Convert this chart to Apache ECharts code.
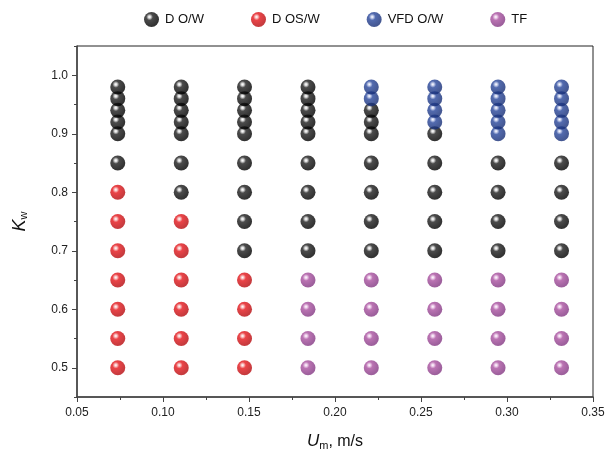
<!DOCTYPE html>
<html><head><meta charset="utf-8">
<script src="https://cdn.jsdelivr.net/npm/echarts@6/dist/echarts.min.js"></script>
<style>html,body{margin:0;padding:0;background:#fff}#c{width:608px;height:458px}</style>
</head><body><div id="c"></div>
<script>
// flow velocity (m/s) of each column
const Um = [0.0737, 0.1106, 0.1474, 0.1843, 0.2211, 0.2580, 0.2948, 0.3317];
// water cut levels
const Kw = [0.50, 0.55, 0.60, 0.65, 0.70, 0.75, 0.80, 0.85, 0.90, 0.92, 0.94, 0.96, 0.98];
// flow regime at each (Um column, Kw level): D = D O/W, R = D OS/W, V = VFD O/W, T = TF
const regime = [
  'RRRRRRRDDDDDD',
  'RRRRRRDDDDDDD',
  'RRRRDDDDDDDDD',
  'TTTTDDDDDDDDD',
  'TTTTDDDDDDDVV',
  'TTTTDDDDDVVVV',
  'TTTTDDDDVVVVV',
  'TTTTDDDDVVVVV'
];
const seriesNames = ['D O/W', 'D OS/W', 'VFD O/W', 'TF'];
const seriesCodes = ['D', 'R', 'V', 'T'];
const yTicks = [0.5, 0.6, 0.7, 0.8, 0.9, 1.0];
const yMinor = [0.45, 0.55, 0.65, 0.75, 0.85, 0.95, 1.05];

const palette = {
  D: ['#ffffff', '#d6d6d6', '#1e1e1e', '#000000'],
  R: ['#ffffff', '#f8c0c0', '#e5151a', '#b80a0e'],
  V: ['#ffffff', '#c0c9ea', '#27459a', '#172f78'],
  T: ['#ffffff', '#ecc8e8', '#a9509f', '#853884']
};
function sphere(code) {
  const c = palette[code];
  return {type: 'radial', x: 0.37, y: 0.33, r: 0.62,
    colorStops: [{offset: 0, color: c[0]}, {offset: 0.13, color: c[1]}, {offset: 0.36, color: c[2]}, {offset: 1, color: c[3]}]};
}
function pointsFor(code) {
  const pts = [];
  for (let i = 0; i < Um.length; i++)
    for (let j = 0; j < Kw.length; j++)
      if (regime[i][j] === code) pts.push([Um[i], Kw[j]]);
  return pts;
}

const chart = echarts.init(document.getElementById('c'), null, {renderer: 'canvas'});
const font = 'Liberation Sans, Arial, sans-serif';
chart.setOption({
  animation: false,
  textStyle: {fontFamily: font},
  legend: {
    top: 12, left: 144, padding: 0, itemWidth: 15, itemHeight: 15, itemGap: 47,
    icon: 'circle',
    textStyle: {fontSize: 13, color: '#111', fontFamily: font, padding: [0, 0, 0, 1]},
    data: seriesNames
  },
  grid: {left: 77, right: 15, top: 46, bottom: 61, show: true, borderColor: '#222', borderWidth: 1},
  xAxis: {
    type: 'value', min: 0.05, max: 0.35, interval: 0.05,
    name: '{i|U}{s|m}{n|, m/s}', nameLocation: 'middle', nameGap: 35,
    nameTextStyle: {rich: {
      i: {fontStyle: 'italic', fontSize: 17, color: '#111', fontFamily: font},
      s: {fontSize: 11, color: '#111', verticalAlign: 'bottom', padding: [8, 0, 0, 0], fontFamily: font},
      n: {fontSize: 16, color: '#111', fontFamily: font}}},
    axisLine: {onZero: false, lineStyle: {color: '#444', width: 1.5}},
    axisTick: {show: true, inside: false, length: 5, lineStyle: {color: '#444'}},
    minorTick: {show: true, splitNumber: 2, length: 3, lineStyle: {color: '#444'}},
    axisLabel: {fontSize: 12, color: '#222', margin: 10, formatter: v => v.toFixed(2)},
    splitLine: {show: false}
  },
  yAxis: [{
    type: 'value', min: 0.45, max: 1.05,
    name: '{i|K}{s|w}', nameLocation: 'middle', nameGap: 48, nameRotate: 90,
    nameTextStyle: {rich: {
      i: {fontStyle: 'italic', fontSize: 18, color: '#111', fontFamily: font},
      s: {fontSize: 11, color: '#111', padding: [8, 0, 0, 0], fontFamily: font}}},
    axisLine: {onZero: false, lineStyle: {color: '#444', width: 1.5}},
    axisTick: {show: true, length: 5, customValues: yTicks, lineStyle: {color: '#444'}},
    axisLabel: {fontSize: 12, color: '#222', margin: 9, customValues: yTicks, formatter: v => v.toFixed(1)},
    splitLine: {show: false}
  }, {
    type: 'value', min: 0.45, max: 1.05, position: 'left',
    axisLine: {show: false},
    axisTick: {show: true, length: 3, customValues: yMinor, lineStyle: {color: '#444'}},
    axisLabel: {show: false},
    splitLine: {show: false}
  }],
  series: seriesCodes.map((code, k) => ({
    name: seriesNames[k], type: 'scatter', symbol: 'circle', symbolSize: 15,
    itemStyle: {color: sphere(code)},
    data: pointsFor(code)
  }))
});
</script></body></html>
